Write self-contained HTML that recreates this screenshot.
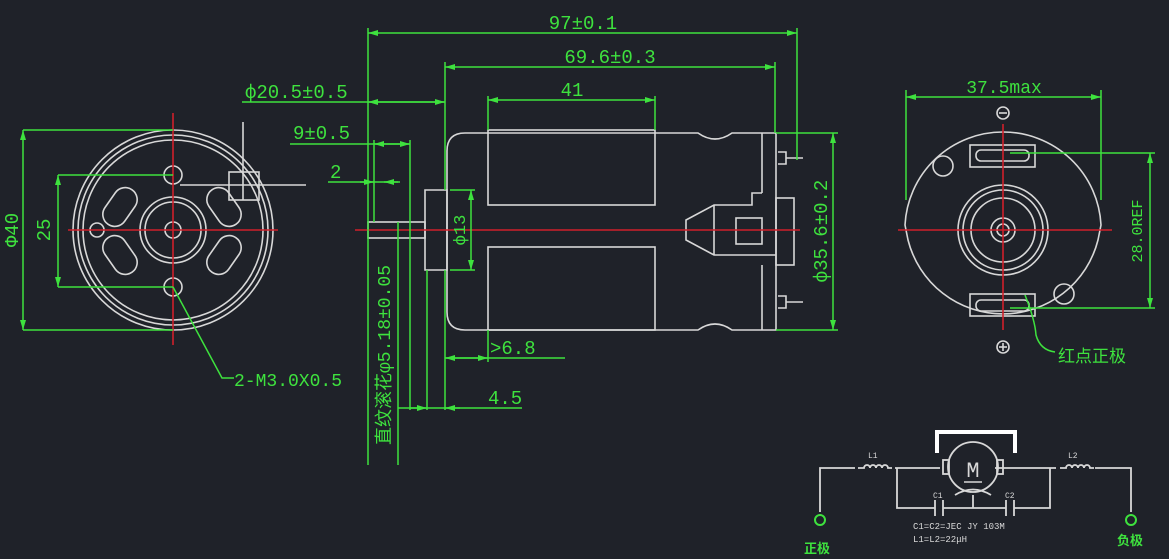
<!DOCTYPE html>
<html><head><meta charset="utf-8"><style>
html,body{margin:0;padding:0;background:#1f2229;}
svg{display:block}
text{font-family:"Liberation Mono","Noto Sans CJK SC",monospace;fill:#3ee23e}
</style></head><body>
<svg width="1169" height="559" viewBox="0 0 1169 559" xmlns="http://www.w3.org/2000/svg">
<rect width="1169" height="559" fill="#1f2229"/>
<defs>
<marker id="a" viewBox="0 0 10 6" refX="10" refY="3" markerWidth="10" markerHeight="4" orient="auto-start-reverse"><path d="M0,0L10,3L0,6z" fill="#3ee23e"/></marker>
</defs>

<!-- ===== LEFT VIEW ===== -->
<g stroke="#d8d8d8" stroke-width="1.6" fill="none">
<circle cx="173" cy="230" r="100"/>
<circle cx="173" cy="230" r="95"/>
<circle cx="173" cy="230" r="90"/>
<circle cx="173" cy="230" r="33"/>
<circle cx="173" cy="230" r="28"/>
<circle cx="173" cy="230" r="8"/>
<circle cx="173" cy="175" r="9"/>
<circle cx="173" cy="287" r="9"/>
<circle cx="97" cy="230" r="7"/>
<rect x="108" y="186" width="24" height="42" rx="12" transform="rotate(35 120 207)"/>
<rect x="108" y="234" width="24" height="42" rx="12" transform="rotate(-35 120 255)"/>
<rect x="212" y="186" width="24" height="42" rx="12" transform="rotate(-35 224 207)"/>
<rect x="212" y="234" width="24" height="42" rx="12" transform="rotate(35 224 255)"/>
<rect x="229" y="172" width="30" height="28"/>
<line x1="243" y1="122" x2="243" y2="200"/>
<line x1="180" y1="185" x2="306" y2="185"/>
</g>
<g stroke="#d0202a" stroke-width="1.6">
<line x1="68" y1="230" x2="278" y2="230"/>
<line x1="173" y1="113" x2="173" y2="345"/>
</g>
<g stroke="#3ee23e" stroke-width="1.5" fill="none">
<line x1="23" y1="130" x2="173" y2="130"/>
<line x1="23" y1="330" x2="173" y2="330"/>
<line x1="23" y1="130" x2="23" y2="330" marker-start="url(#a)" marker-end="url(#a)"/>
<line x1="58" y1="175" x2="173" y2="175"/>
<line x1="58" y1="287" x2="173" y2="287"/>
<line x1="58" y1="175" x2="58" y2="287" marker-start="url(#a)" marker-end="url(#a)"/>
<polyline points="173,287 222,378 234,378"/>
</g>
<text x="18" y="230" font-size="19" transform="rotate(-90 18 230)" text-anchor="middle">Φ40</text>
<text x="50" y="230" font-size="19" transform="rotate(-90 50 230)" text-anchor="middle">25</text>
<text x="234" y="386" font-size="18">2-M3.0X0.5</text>

<!-- ===== SIDE VIEW ===== -->
<g stroke="#d8d8d8" stroke-width="1.6" fill="none">
<rect x="368" y="222" width="57" height="16"/>
<path d="M425,190 H447 V270 H425 Z"/>
<path d="M465,133 H698 Q715,145 732,133 H776 V330 H732 Q715,318 698,330 H465 Q447,330 447,312 V151 Q447,133 465,133 Z"/>
<rect x="488" y="130" width="167" height="75"/>
<rect x="488" y="247" width="167" height="83"/>
<line x1="762" y1="133" x2="762" y2="193"/>
<line x1="762" y1="265" x2="762" y2="330"/>
<path d="M762,193 H752 V205 H714 L686,220 V240 L714,255 H776"/>
<path d="M714,205 V255"/>
<rect x="736" y="218" width="26" height="26"/>
<rect x="776" y="198" width="18" height="67"/>
<path d="M778,152 H786 V164 H778 M786,158 H803"/>
<path d="M778,296 H786 V308 H778 M786,302 H803"/>
</g>
<line x1="355" y1="230" x2="800" y2="230" stroke="#d0202a" stroke-width="1.6"/>
<g stroke="#3ee23e" stroke-width="1.5" fill="none">
<line x1="368" y1="28" x2="368" y2="465"/>
<line x1="797" y1="28" x2="797" y2="160"/>
<line x1="368" y1="33" x2="797" y2="33" marker-start="url(#a)" marker-end="url(#a)"/>
<line x1="445" y1="62" x2="445" y2="190"/>
<line x1="775" y1="62" x2="775" y2="133"/>
<line x1="445" y1="67" x2="775" y2="67" marker-start="url(#a)" marker-end="url(#a)"/>
<line x1="488" y1="96" x2="488" y2="130"/>
<line x1="655" y1="96" x2="655" y2="130"/>
<line x1="488" y1="100" x2="655" y2="100" marker-start="url(#a)" marker-end="url(#a)"/>
<line x1="242" y1="102" x2="445" y2="102"/>
<line x1="368" y1="102" x2="445" y2="102" marker-start="url(#a)" marker-end="url(#a)"/>
<line x1="290" y1="144" x2="410" y2="144"/>
<line x1="374" y1="144" x2="410" y2="144" marker-start="url(#a)" marker-end="url(#a)"/>
<line x1="410" y1="140" x2="410" y2="410"/>
<line x1="374" y1="140" x2="374" y2="222"/>
<line x1="328" y1="182" x2="400" y2="182"/>
<line x1="360" y1="182" x2="374" y2="182" marker-end="url(#a)"/>
<line x1="398" y1="182" x2="384" y2="182" marker-end="url(#a)"/>
<line x1="398" y1="222" x2="398" y2="465"/>
<line x1="427" y1="270" x2="427" y2="410"/>
<line x1="445" y1="270" x2="445" y2="410"/>
<line x1="398" y1="408" x2="522" y2="408"/>
<line x1="410" y1="408" x2="427" y2="408" marker-end="url(#a)"/>
<line x1="460" y1="408" x2="445" y2="408" marker-end="url(#a)"/>
<line x1="488" y1="330" x2="488" y2="362"/>
<line x1="445" y1="358" x2="565" y2="358"/>
<line x1="445" y1="358" x2="488" y2="358" marker-start="url(#a)" marker-end="url(#a)"/>
<line x1="450" y1="190" x2="475" y2="190"/>
<line x1="450" y1="270" x2="475" y2="270"/>
<line x1="471" y1="190" x2="471" y2="270" marker-start="url(#a)" marker-end="url(#a)"/>
<line x1="776" y1="133" x2="838" y2="133"/>
<line x1="776" y1="330" x2="838" y2="330"/>
<line x1="833" y1="133" x2="833" y2="330" marker-start="url(#a)" marker-end="url(#a)"/>
</g>
<text x="583" y="29" font-size="19" text-anchor="middle">97±0.1</text>
<text x="610" y="63" font-size="19" text-anchor="middle">69.6±0.3</text>
<text x="572" y="96" font-size="19" text-anchor="middle">41</text>
<text x="245" y="98" font-size="19">ф20.5±0.5</text>
<text x="293" y="139" font-size="19">9±0.5</text>
<text x="330" y="178" font-size="19">2</text>
<text x="490" y="354" font-size="19">&gt;6.8</text>
<text x="488" y="404" font-size="19">4.5</text>
<text x="465" y="230" font-size="17" transform="rotate(-90 465 230)" text-anchor="middle">ф13</text>
<text x="827" y="231" font-size="19" transform="rotate(-90 827 231)" text-anchor="middle">ф35.6±0.2</text>
<text x="390" y="355" font-size="18" transform="rotate(-90 390 355)" text-anchor="middle">直纹滚花φ5.18±0.05</text>

<!-- ===== RIGHT VIEW ===== -->
<g stroke="#d8d8d8" stroke-width="1.6" fill="none">
<path d="M1003,132 A98,98 0 0 1 1101,225 L1098,240 A98,98 0 0 1 908,240 L905,225 A98,98 0 0 1 1003,132 Z"/>
<circle cx="1003" cy="230" r="45"/>
<circle cx="1003" cy="230" r="40"/>
<circle cx="1003" cy="230" r="32"/>
<circle cx="1003" cy="230" r="12"/>
<circle cx="1003" cy="230" r="6"/>
<rect x="970" y="145" width="65" height="22"/>
<rect x="976" y="150" width="53" height="11" rx="5"/>
<rect x="970" y="294" width="65" height="22"/>
<rect x="976" y="300" width="53" height="11" rx="5"/>
<circle cx="943" cy="166" r="10"/>
<circle cx="1064" cy="294" r="10"/>
<circle cx="1003" cy="113" r="6"/>
<line x1="999" y1="113" x2="1007" y2="113"/>
<circle cx="1003" cy="347" r="6"/>
<line x1="999" y1="347" x2="1007" y2="347"/>
<line x1="1003" y1="343" x2="1003" y2="351"/>
</g>
<g stroke="#d0202a" stroke-width="1.6">
<line x1="898" y1="230" x2="1112" y2="230"/>
<line x1="1003" y1="124" x2="1003" y2="330"/>
</g>
<g stroke="#3ee23e" stroke-width="1.5" fill="none">
<line x1="906" y1="90" x2="906" y2="200"/>
<line x1="1101" y1="90" x2="1101" y2="200"/>
<line x1="906" y1="97" x2="1101" y2="97" marker-start="url(#a)" marker-end="url(#a)"/>
<line x1="1010" y1="153" x2="1155" y2="153"/>
<line x1="1010" y1="308" x2="1155" y2="308"/>
<line x1="1150" y1="153" x2="1150" y2="308" marker-start="url(#a)" marker-end="url(#a)"/>
<path d="M1025,295 Q1035,320 1036,335 Q1040,350 1055,352"/>
</g>
<text x="1004" y="93" font-size="18" text-anchor="middle">37.5max</text>
<text x="1142" y="231" font-size="15" transform="rotate(-90 1142 231)" text-anchor="middle">28.0REF</text>
<text x="1058" y="362" font-size="17">红点正极</text>

<!-- ===== CIRCUIT ===== -->
<g stroke="#d8d8d8" stroke-width="1.8" fill="none">
<path d="M820,512 V468 H855"/>
<path d="M858,468 h6 a3,3 0 0 1 6,0 a3,3 0 0 1 6,0 a3,3 0 0 1 6,0 a3,3 0 0 1 6,0 h4"/>
<path d="M895,468 H940 M995,468 H1056"/>
<path d="M897,468 V508 H935 M943,508 H1006 M1014,508 H1050 V468"/>
<line x1="935" y1="500" x2="935" y2="516"/>
<line x1="943" y1="500" x2="943" y2="516"/>
<line x1="1006" y1="500" x2="1006" y2="516"/>
<line x1="1014" y1="500" x2="1014" y2="516"/>
<line x1="973" y1="495" x2="973" y2="508"/>
<path d="M1060,468 h6 a3,3 0 0 1 6,0 a3,3 0 0 1 6,0 a3,3 0 0 1 6,0 a3,3 0 0 1 6,0 h4"/>
<path d="M1095,468 H1131 V512"/>
<circle cx="973" cy="467" r="25"/>
<rect x="943" y="460" width="6" height="14"/>
<rect x="997" y="460" width="6" height="14"/>
<path d="M955,495 Q973,484 991,495"/>
</g>
<path d="M937,453 V432 H1015 V453" stroke="#fff" stroke-width="4" fill="none"/>
<text x="973" y="477" font-size="22" fill="#d8d8d8" style="fill:#d8d8d8" text-anchor="middle">M</text>
<line x1="964" y1="482" x2="982" y2="482" stroke="#d8d8d8" stroke-width="1.5"/>
<g stroke="#3ee23e" stroke-width="2" fill="none">
<circle cx="820" cy="520" r="5"/>
<circle cx="1131" cy="520" r="5"/>
</g>
<g style="fill:#d8d8d8" font-size="8">
<text x="868" y="458" style="fill:#d8d8d8">L1</text>
<text x="1068" y="458" style="fill:#d8d8d8">L2</text>
<text x="933" y="498" style="fill:#d8d8d8">C1</text>
<text x="1005" y="498" style="fill:#d8d8d8">C2</text>
<text x="913" y="529" style="fill:#d8d8d8" font-size="9">C1=C2=JEC JY 103M</text>
<text x="913" y="542" style="fill:#d8d8d8" font-size="9">L1=L2=22μH</text>
</g>
<text x="804" y="553" font-size="13" font-weight="bold">正极</text>
<text x="1117" y="545" font-size="13" font-weight="bold">负极</text>
</svg>
</body></html>
